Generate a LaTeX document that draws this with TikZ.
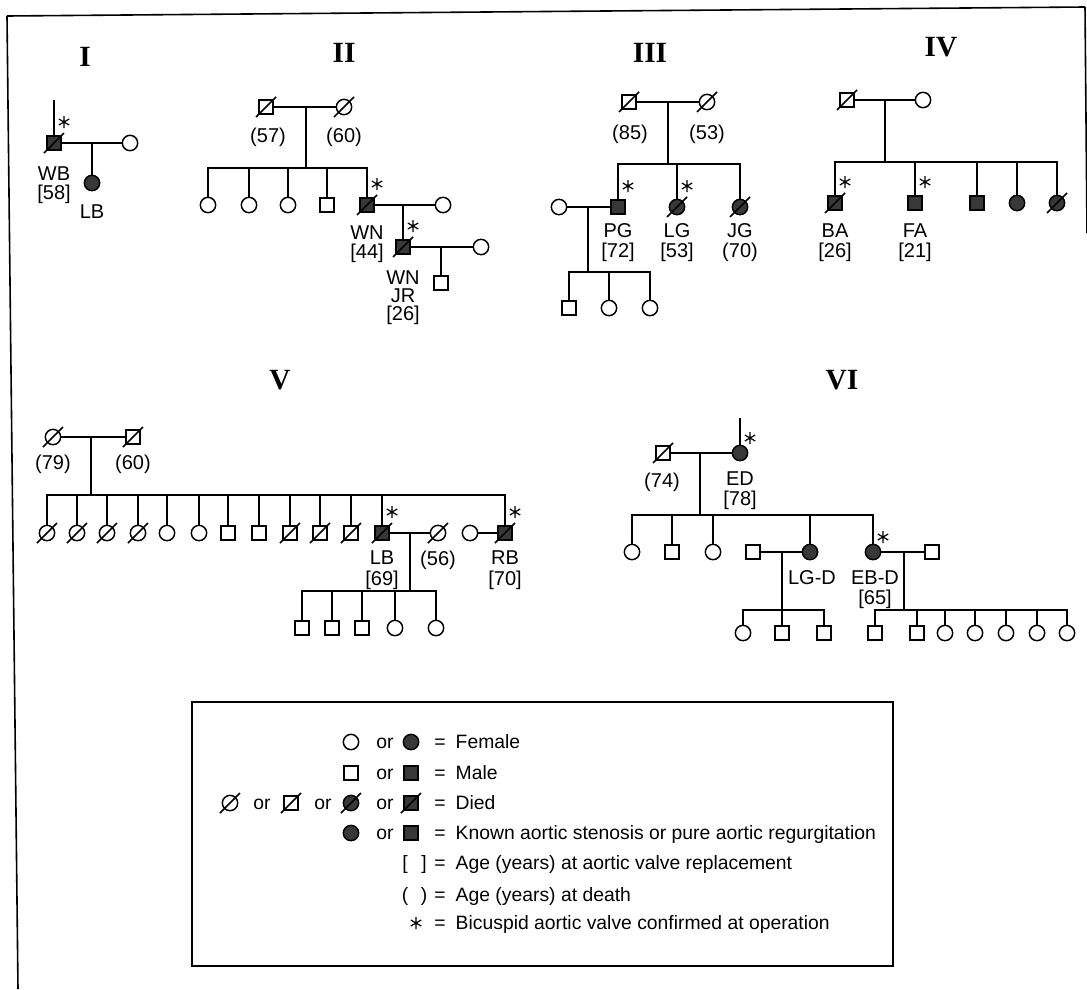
\documentclass[tikz,border=0pt]{standalone}
\usepackage{fontspec}
\setmainfont{Liberation Sans}
\newfontfamily\titlefont{Liberation Serif}
\begin{document}
\begin{tikzpicture}[x=0.75pt,y=-0.75pt,
  line width=1.1pt,
  sq/.style={draw,rectangle,minimum size=10.5pt,inner sep=0pt,fill=white},
  ci/.style={draw,circle,minimum size=11.5pt,inner sep=0pt,fill=white},
  aff/.style={fill=black!78},
  lab/.style={font=\fontsize{15}{17}\selectfont,inner sep=0pt,text height=10.5pt,text depth=0pt},
  leg/.style={font=\fontsize{14.5}{17}\selectfont,inner sep=0pt,text height=10.2pt,text depth=0pt},
  ttl/.style={font=\titlefont\bfseries\fontsize{22}{24}\selectfont,inner sep=0pt},
  pics/ast/.style={code={\draw[line width=0.9pt] (0,-6)--(0,6) (-5.2,-3)--(5.2,3) (-5.2,3)--(5.2,-3);}}
]
\useasboundingbox (0,0) rectangle (1087,989);
% frame
\draw[line width=1.2pt] (7,16) -- (1085,7);
\draw[line width=1.2pt] (7,16) -- (18,989);
\draw[line width=1.2pt] (1085,7) -- (1087,233);

% ---------- Family I
\node[ttl] (tI) at (85,57) {I};
\node[sq,aff] (wb) at (54,143) {};
\node[ci] (wbw) at (130,143) {};
\coordinate (wbtop) at (54,100);
\draw (wbtop) -- (wb);
\draw (wb) -- (wbw);
\coordinate (m1) at (92,143);
\node[ci,aff] (lb1) at (92,183) {};
\draw (m1) -- (lb1);
\node[lab] (wbl) at (54,173) {WB};
\node[lab] (wba) at (54,192) {[58]};
\node[lab] (lb1l) at (92,211) {LB};

% ---------- Family II
\node[ttl] (tII) at (344,53) {II};
\node[sq] (f2) at (266,107) {};
\node[ci] (mo2) at (344,107) {};
\draw (f2) -- (mo2);
\coordinate (m2) at (306,107);
\coordinate (s2) at (306,168);
\draw (m2) -- (s2);
\node[ci] (c21) at (208,205) {};
\node[ci] (c22) at (249,205) {};
\node[ci] (c23) at (288,205) {};
\node[sq] (c24) at (327,205) {};
\node[sq,aff] (wn) at (367,205) {};
\draw (c21.north) |- (s2) -| (wn.north);
\foreach \c in {c22,c23,c24} \draw (\c.north) -- (\c.north |- s2);
\node[lab] (f2l) at (268,135) {(57)};
\node[lab] (mo2l) at (344,135) {(60)};
\node[ci] (wnw) at (443,205) {};
\draw (wn) -- (wnw);
\coordinate (m2b) at (403,205);
\node[sq,aff] (wnjr) at (403,247) {};
\draw (m2b) -- (wnjr);
\node[ci] (jrw) at (481,247) {};
\draw (wnjr) -- (jrw);
\coordinate (m2c) at (441,247);
\node[sq] (jrc) at (441,283) {};
\draw (m2c) -- (jrc);
\node[lab] (wnl) at (367,232) {WN};
\node[lab] (wna) at (367,251) {[44]};
\node[lab] (jrl1) at (403,277) {WN};
\node[lab] (jrl2) at (403,295) {JR};
\node[lab] (jrl3) at (403,313) {[26]};

% ---------- Family III
\node[ttl] (tIII) at (650,53) {III};
\node[sq] (f3) at (629,102) {};
\node[ci] (mo3) at (707,102) {};
\draw (f3) -- (mo3);
\coordinate (m3) at (668,102);
\coordinate (s3) at (668,164);
\draw (m3) -- (s3);
\node[sq,aff] (pg) at (618,207) {};
\node[ci,aff] (lg) at (677,207) {};
\node[ci,aff] (jg) at (740,207) {};
\draw (pg.north) |- (s3) -| (jg.north);
\draw (lg.north) -- (lg.north |- s3);
\node[lab] (f3l) at (630,132) {(85)};
\node[lab] (mo3l) at (707,132) {(53)};
\node[lab] (pgl) at (618,230) {PG};
\node[lab] (pga) at (618,250) {[72]};
\node[lab] (lgl) at (677,230) {LG};
\node[lab] (lga) at (677,250) {[53]};
\node[lab] (jgl) at (740,230) {JG};
\node[lab] (jga) at (740,250) {(70)};
\node[ci] (pgw) at (559,207) {};
\draw (pgw) -- (pg);
\coordinate (m3b) at (588,207);
\coordinate (s3b) at (588,272);
\draw (m3b) -- (s3b);
\node[sq] (g31) at (569,308) {};
\node[ci] (g32) at (609,308) {};
\node[ci] (g33) at (650,308) {};
\draw (g31.north) |- (s3b) -| (g33.north);
\draw (g32.north) -- (g32.north |- s3b);

% ---------- Family IV
\node[ttl] (tIV) at (941,47) {IV};
\node[sq] (f4) at (847,100) {};
\node[ci] (mo4) at (923,100) {};
\draw (f4) -- (mo4);
\coordinate (m4) at (885,100);
\coordinate (s4) at (885,162);
\draw (m4) -- (s4);
\node[sq,aff] (ba) at (835,203) {};
\node[sq,aff] (fa) at (915,203) {};
\node[sq,aff] (c43) at (977,203) {};
\node[ci,aff] (c44) at (1017,203) {};
\node[ci,aff] (c45) at (1057,203) {};
\draw (ba.north) |- (s4) -| (c45.north);
\foreach \c in {fa,c43,c44} \draw (\c.north) -- (\c.north |- s4);
\node[lab] (bal) at (835,230) {BA};
\node[lab] (baa) at (835,250) {[26]};
\node[lab] (fal) at (915,230) {FA};
\node[lab] (faa) at (915,250) {[21]};

% ---------- Family V
\node[ttl] (tV) at (280,380) {V};
\node[ci] (mo5) at (53,437) {};
\node[sq] (f5) at (133,437) {};
\draw (mo5) -- (f5);
\node[lab] (mo5l) at (53,462) {(79)};
\node[lab] (f5l) at (133,462) {(60)};
\coordinate (m5) at (91,437);
\coordinate (s5) at (91,495);
\draw (m5) -- (s5);
\node[ci] (c51) at (47,533) {};
\node[ci] (c52) at (77,533) {};
\node[ci] (c53) at (107,533) {};
\node[ci] (c54) at (138,533) {};
\node[ci] (c55) at (167,533) {};
\node[ci] (c56) at (199,533) {};
\node[sq] (c57) at (228,533) {};
\node[sq] (c58) at (259,533) {};
\node[sq] (c59) at (290,533) {};
\node[sq] (c510) at (320,533) {};
\node[sq] (c511) at (351,533) {};
\node[sq,aff] (lb) at (382,533) {};
\node[sq,aff] (rb) at (505,533) {};
\draw (c51.north) |- (s5) -| (rb.north);
\foreach \c in {c52,c53,c54,c55,c56,c57,c58,c59,c510,c511,lb} \draw (\c.north) -- (\c.north |- s5);
\node[ci] (lbw) at (438,533) {};
\draw (lb) -- (lbw);
\node[lab] (lbwl) at (438,558) {(56)};
\node[ci] (rbw) at (470,533) {};
\draw (rbw) -- (rb);
\node[lab] (lbl) at (382,557) {LB};
\node[lab] (lba) at (382,578) {[69]};
\node[lab] (rbl) at (505,557) {RB};
\node[lab] (rba) at (505,578) {[70]};
\coordinate (m5b) at (410,533);
\coordinate (s5b) at (410,591);
\draw (m5b) -- (s5b);
\node[sq] (g51) at (302,628) {};
\node[sq] (g52) at (332,628) {};
\node[sq] (g53) at (362,628) {};
\node[ci] (g54) at (395,628) {};
\node[ci] (g55) at (436,628) {};
\draw (g51.north) |- (s5b) -| (g55.north);
\foreach \c in {g52,g53,g54} \draw (\c.north) -- (\c.north |- s5b);

% ---------- Family VI
\node[ttl] (tVI) at (842,380) {VI};
\node[sq] (f6) at (663,453) {};
\node[ci,aff] (ed) at (740,453) {};
\draw (f6) -- (ed);
\coordinate (edtop) at (740,418);
\draw (edtop) -- (ed);
\node[lab] (f6l) at (662,480) {(74)};
\node[lab] (edl) at (740,478) {ED};
\node[lab] (eda) at (740,498) {[78]};
\coordinate (m6) at (700,453);
\coordinate (s6) at (700,515);
\draw (m6) -- (s6);
\node[ci] (c61) at (632,552) {};
\node[sq] (c62) at (672,552) {};
\node[ci] (c63) at (713,552) {};
\node[ci,aff] (lgd) at (810,552) {};
\node[ci,aff] (ebd) at (873,552) {};
\draw (c61.north) |- (s6) -| (ebd.north);
\foreach \c in {c62,c63,lgd} \draw (\c.north) -- (\c.north |- s6);
\node[sq] (lgdh) at (753,552) {};
\draw (lgdh) -- (lgd);
\node[lab] (lgdl) at (812,577) {LG-D};
\coordinate (m6b) at (782,552);
\coordinate (s6b) at (782,610);
\draw (m6b) -- (s6b);
\node[ci] (g61) at (743,633) {};
\node[sq] (g62) at (782,633) {};
\node[sq] (g63) at (824,633) {};
\draw (g61.north) |- (s6b) -| (g63.north);
\draw (g62.north) -- (g62.north |- s6b);
\node[sq] (ebdh) at (932,552) {};
\draw (ebd) -- (ebdh);
\node[lab] (ebdl) at (875,577) {EB-D};
\node[lab] (ebda) at (875,597) {[65]};
\coordinate (m6c) at (904,552);
\coordinate (s6c) at (904,610);
\draw (m6c) -- (s6c);
\node[sq] (h1) at (875,633) {};
\node[sq] (h2) at (917,633) {};
\node[ci] (h3) at (945,633) {};
\node[ci] (h4) at (975,633) {};
\node[ci] (h5) at (1006,633) {};
\node[ci] (h6) at (1037,633) {};
\node[ci] (h7) at (1067,633) {};
\draw (h1.north) |- (s6c) -| (h7.north);
\foreach \c in {h2,h3,h4,h5,h6} \draw (\c.north) -- (\c.north |- s6c);

% ---------- Legend
\draw (192,702) rectangle (893,966);
\node[ci] (k11) at (351,742) {};
\node[leg] (k12) at (385,742) {or};
\node[ci,aff] (k13) at (411,742) {};
\node[leg] (k14) at (440,742) {=};
\node[leg,anchor=west] (k15) at (455,742) {Female};
\node[sq] (k21) at (351,773) {};
\node[leg] (k22) at (385,773) {or};
\node[sq,aff] (k23) at (411,773) {};
\node[leg] (k24) at (440,773) {=};
\node[leg,anchor=west] (k25) at (455,773) {Male};
\node[ci] (k31) at (230,803) {};
\node[leg] (k32) at (262,803) {or};
\node[sq] (k33) at (291,803) {};
\node[leg] (k34) at (323,803) {or};
\node[ci,aff] (k35) at (351,803) {};
\node[leg] (k36) at (385,803) {or};
\node[sq,aff] (k37) at (411,803) {};
\node[leg] (k38) at (440,803) {=};
\node[leg,anchor=west] (k39) at (455,803) {Died};
\node[ci,aff] (k41) at (351,833) {};
\node[leg] (k42) at (385,833) {or};
\node[sq,aff] (k43) at (411,833) {};
\node[leg] (k44) at (440,833) {=};
\node[leg,anchor=west] (k45) at (455,833) {Known aortic stenosis or pure aortic regurgitation};
\node[leg] (k51) at (405,863) {[};
\node[leg] (k52) at (424,863) {]};
\node[leg] (k53) at (440,863) {=};
\node[leg,anchor=west] (k54) at (455,863) {Age (years) at aortic valve replacement};
\node[leg] (k61) at (405,895) {(};
\node[leg] (k62) at (424,895) {)};
\node[leg] (k63) at (440,895) {=};
\node[leg,anchor=west] (k64) at (455,895) {Age (years) at death};
\coordinate (k71) at (416,923);
\pic at (k71) {ast};
\node[leg] (k73) at (440,923) {=};
\node[leg,anchor=west] (k74) at (455,923) {Bicuspid aortic valve confirmed at operation};

% ---------- died slashes
\foreach \n in {wb,f2,mo2,wn,wnjr,f3,mo3,lg,jg,f4,ba,c45,mo5,f5,c51,c52,c53,c54,c59,c510,c511,lb,lbw,rb,f6,k31,k33,k35,k37}
  \draw ([shift={(-10,10)}]\n.center) -- ([shift={(10,-10)}]\n.center);
% asterisks
\foreach \n in {wb,wn,wnjr,pg,lg,ba,fa,lb,rb}
  \pic at ([shift={(10,-21)}]\n.center) {ast};
\foreach \n in {ed,ebd}
  \pic at ([shift={(10,-15)}]\n.center) {ast};
\end{tikzpicture}
\end{document}
